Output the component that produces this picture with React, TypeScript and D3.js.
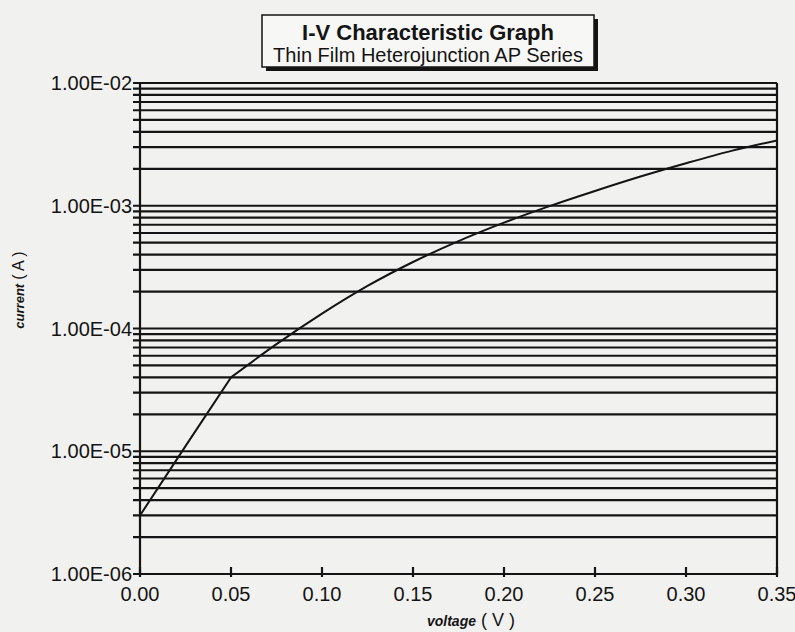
import React from 'react';
import * as d3 from 'd3';

// I-V curve
const voltage = [0, 0.025, 0.05, 0.075, 0.1, 0.125, 0.15, 0.175, 0.2, 0.225, 0.25, 0.275, 0.3, 0.325, 0.35];
const current = [3.0e-6, 1.1e-5, 4.0e-5, 7.45e-5, 1.32e-4, 2.22e-4, 3.48e-4, 5.15e-4, 7.28e-4, 9.93e-4, 1.32e-3, 1.73e-3, 2.22e-3, 2.8e-3, 3.4e-3];

const xTicks = [0, 0.05, 0.1, 0.15, 0.2, 0.25, 0.3, 0.35];
const xTickLabels = ['0.00', '0.05', '0.10', '0.15', '0.20', '0.25', '0.30', '0.35'];
const yMajor = [1e-6, 1e-5, 1e-4, 1e-3, 1e-2];
const yTickLabels = ['1.00E-06', '1.00E-05', '1.00E-04', '1.00E-03', '1.00E-02'];

const W = 795;
const H = 632;
const font = '"Liberation Sans", Arial, Helvetica, sans-serif';
const ink = '#141414';

export default function App() {
  const x = d3.scaleLinear().domain([0, 0.35]).range([140, 777]);
  const y = d3.scaleLog().domain([1e-6, 1e-2]).range([574, 83]);

  const grid = y.ticks(); // 1..9 per decade
  const pts: [number, number][] = voltage.map((v, i) => [v, current[i]]);
  // sharp bend at 0.05 V, smooth after it
  const kink = voltage.indexOf(0.05);
  const straight = d3.line<[number, number]>().x(d => x(d[0])).y(d => y(d[1]));
  const smooth = d3.line<[number, number]>().x(d => x(d[0])).y(d => y(d[1])).curve(d3.curveMonotoneX);
  const lowPath = straight(pts.slice(0, kink + 1)) ?? '';
  const highPath = smooth(pts.slice(kink)) ?? '';

  const [x0, x1] = x.range();
  const [yb, yt] = y.range();

  return (
    <svg width={W} height={H} style={{ position: 'absolute', left: 0, top: 0 }} fontFamily={font}>
      <rect width={W} height={H} fill="#f1f1ef" />

      {/* title box with drop shadow */}
      <rect x={266} y={19} width={332} height={52} fill={ink} />
      <rect x={262} y={15} width={332} height={52} fill="#f7f7f5" stroke={ink} strokeWidth={1.5} />
      <text x={428} y={40} textAnchor="middle" fontSize={22} fontWeight="bold" fill={ink}>I-V Characteristic Graph</text>
      <text x={428} y={62} textAnchor="middle" fontSize={20} fill={ink}>Thin Film Heterojunction AP Series</text>

      {/* horizontal grid at every log tick */}
      <g stroke={ink} strokeWidth={2.2}>
        {grid.map((g, i) => (
          <line key={i} x1={x0 - 7} x2={x1} y1={y(g)} y2={y(g)} />
        ))}
        <line x1={x0} x2={x0} y1={yb} y2={yt} />
        <line x1={x1} x2={x1} y1={yb} y2={yt} />
        {xTicks.map((t, i) => (
          <line key={i} x1={x(t)} x2={x(t)} y1={yb + 3} y2={yb - 7} />
        ))}
      </g>

      {yMajor.map((t, i) => (
        <text key={i} x={x0 - 8} y={y(t) + 7} textAnchor="end" fontSize={20} fill={ink}>{yTickLabels[i]}</text>
      ))}
      {xTicks.map((t, i) => (
        <text key={i} x={x(t)} y={601} textAnchor="middle" fontSize={20} fill={ink}>{xTickLabels[i]}</text>
      ))}

      <path d={lowPath + highPath.replace(/^M/, 'L')} fill="none" stroke={ink} strokeWidth={2} />

      <text x={471} y={626} textAnchor="middle" fill={ink}>
        <tspan fontSize={14} fontWeight="bold" fontStyle="italic">voltage</tspan>
        <tspan fontSize={18} dx={5}>( V )</tspan>
      </text>
      <text transform="translate(24,290) rotate(-90)" textAnchor="middle" fill={ink}>
        <tspan fontSize={13} fontWeight="bold" fontStyle="italic">current</tspan>
        <tspan fontSize={16} dx={4}>( A )</tspan>
      </text>
    </svg>
  );
}
